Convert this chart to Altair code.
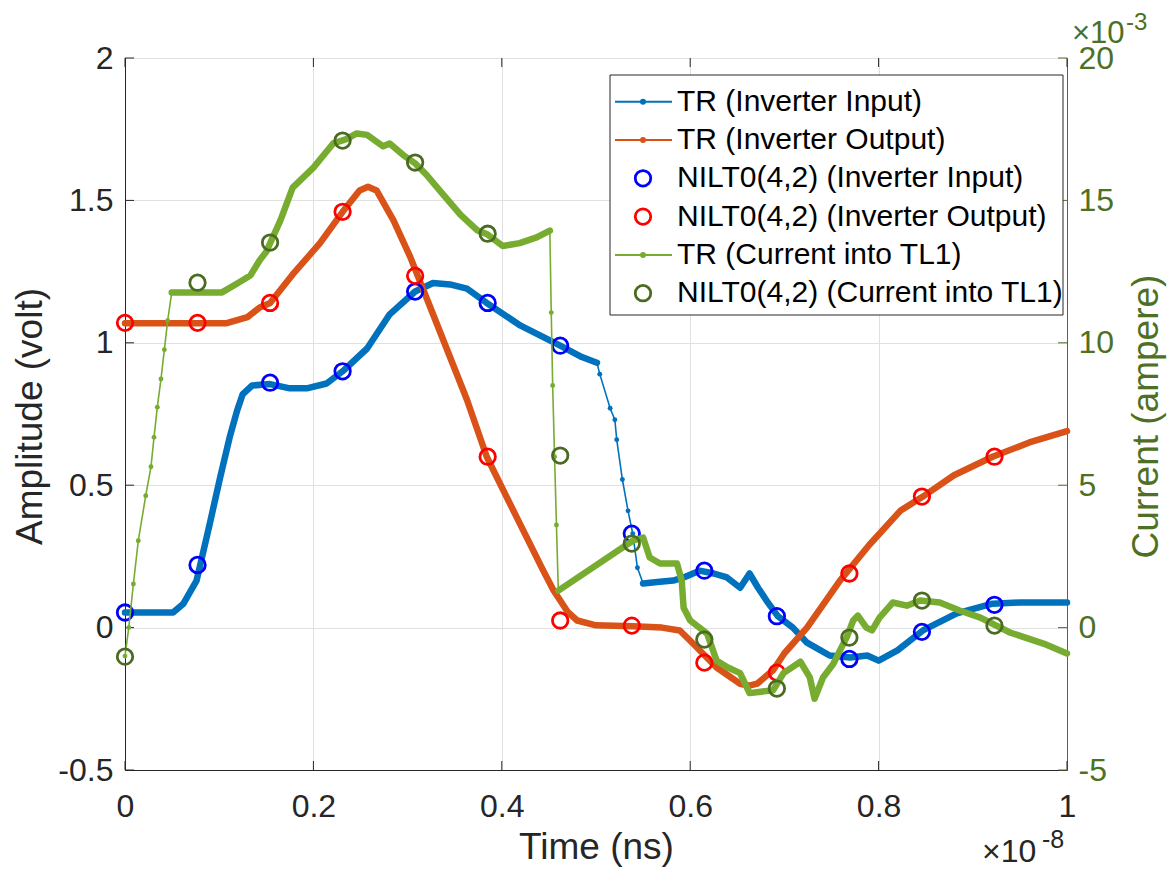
import altair as alt
import pandas as pd

# ---------------- data (time in units of 1e-8 s, current in 1e-3 A) ----------------
TR_IN_T = [0.0, 0.051, 0.062, 0.076, 0.090, 0.101, 0.111, 0.119, 0.125, 0.135, 0.154, 0.175, 0.193,
           0.214, 0.231, 0.257, 0.281, 0.308, 0.327, 0.345, 0.363, 0.384, 0.420, 0.462, 0.485, 0.501,
           0.504, 0.515, 0.520, 0.522, 0.528, 0.534, 0.539, 0.544, 0.550, 0.565, 0.582, 0.593, 0.610,
           0.625, 0.639, 0.653, 0.663, 0.672, 0.681, 0.693, 0.709, 0.724, 0.748, 0.770, 0.788, 0.800,
           0.820, 0.847, 0.883, 0.921, 0.950, 1.0]
TR_IN_V = [0.053, 0.053, 0.084, 0.165, 0.365, 0.527, 0.667, 0.762, 0.82, 0.85, 0.855, 0.84, 0.84,
           0.857, 0.90, 0.98, 1.10, 1.18, 1.21, 1.205, 1.19, 1.14, 1.06, 0.99, 0.95, 0.93,
           0.89, 0.77, 0.73, 0.66, 0.52, 0.41, 0.33, 0.21, 0.155, 0.16, 0.165, 0.176, 0.20,
           0.19, 0.176, 0.14, 0.19, 0.14, 0.095, 0.04, 0.0, -0.053, -0.098, -0.105, -0.098, -0.116,
           -0.08, -0.01, 0.05, 0.084, 0.088, 0.088]

TR_OUT_T = [0.0, 0.108, 0.130, 0.143, 0.154, 0.178, 0.207, 0.231, 0.249, 0.258, 0.267, 0.285, 0.303,
            0.327, 0.345, 0.363, 0.384, 0.416, 0.444, 0.455, 0.462, 0.470, 0.480, 0.500, 0.539, 0.570,
            0.589, 0.603, 0.628, 0.653, 0.663, 0.671, 0.688, 0.700, 0.724, 0.759, 0.790, 0.823, 0.847,
            0.880, 0.921, 0.960, 1.0]
TR_OUT_V = [1.069, 1.069, 1.09, 1.124, 1.14, 1.24, 1.35, 1.46, 1.535, 1.548, 1.535, 1.43, 1.30,
            1.10, 0.95, 0.80, 0.60, 0.386, 0.20, 0.13, 0.095, 0.055, 0.025, 0.008, 0.005, 0.0,
            -0.01, -0.056, -0.14, -0.197, -0.204, -0.197, -0.15, -0.09, 0.0, 0.165, 0.29, 0.41, 0.46,
            0.535, 0.60, 0.65, 0.69]

TR_CUR_T = [0.0, 0.004, 0.0089, 0.0141, 0.022, 0.0276, 0.0308, 0.0343, 0.0382, 0.0418, 0.0453, 0.0496,
            0.103, 0.120, 0.133, 0.143, 0.150, 0.165, 0.178, 0.200, 0.221, 0.235, 0.246, 0.257, 0.274,
            0.281, 0.295, 0.308, 0.320, 0.334, 0.356, 0.374, 0.385, 0.401, 0.419, 0.437, 0.451, 0.4525,
            0.454, 0.456, 0.458, 0.460, 0.539, 0.550, 0.557, 0.568, 0.586, 0.591, 0.593, 0.600, 0.618,
            0.628, 0.640, 0.653, 0.663, 0.688, 0.699, 0.717, 0.727, 0.732, 0.741, 0.752, 0.759, 0.766,
            0.773, 0.778, 0.787, 0.793, 0.801, 0.815, 0.830, 0.844, 0.865, 0.886, 0.908, 0.940, 0.975, 1.0]
TR_CUR_V = [-1.0, 0.0, 1.53, 3.05, 4.63, 5.65, 6.68, 7.74, 8.73, 9.76, 10.78, 11.77,
            11.77, 12.1, 12.36, 12.9, 13.2, 14.3, 15.45, 16.15, 17.0, 17.15, 17.35, 17.3, 16.9,
            17.0, 16.6, 16.3, 15.9, 15.35, 14.5, 13.95, 13.8, 13.4, 13.5, 13.7, 13.94, 11.06,
            8.5, 6.0, 3.6, 1.3, 3.05, 3.16, 2.46, 2.25, 2.25, 1.65, 0.7, 0.25, -0.21,
            -1.16, -1.4, -1.6, -2.3, -2.2, -1.6, -1.2, -1.75, -2.5, -1.75, -1.27, -0.8, -0.35,
            0.25, 0.42, 0.0, -0.1, 0.35, 0.88, 0.77, 0.95, 0.88, 0.6, 0.35, -0.18, -0.56, -0.91]

NILT_T = [0.0, 0.077, 0.154, 0.231, 0.308, 0.385, 0.462, 0.538, 0.615, 0.692, 0.769, 0.846, 0.923]
NILT_IN_V = [0.053, 0.22, 0.86, 0.90, 1.18, 1.14, 0.99, 0.33, 0.20, 0.04, -0.11, -0.015, 0.08]
NILT_OUT_V = [1.07, 1.07, 1.14, 1.46, 1.235, 0.60, 0.025, 0.007, -0.123, -0.158, 0.19, 0.46, 0.60]
NILT_CUR_V = [-1.02, 12.11, 13.52, 17.1, 16.33, 13.83, 6.04, 2.95, -0.42, -2.14, -0.35, 0.95, 0.07]

SERIES = ["TR (Inverter Input)", "TR (Inverter Output)",
          "NILT0(4,2) (Inverter Input)", "NILT0(4,2) (Inverter Output)",
          "TR (Current into TL1)", "NILT0(4,2) (Current into TL1)"]
COLORS = ["#0072BD", "#D95319", "#0000FF", "#FF0000", "#77AC30", "#4A6B21"]
LEGEND_KIND = ["line", "line", "circle", "circle", "line", "circle"]

X_TICKS = [0, 0.2, 0.4, 0.6, 0.8, 1]
LEFT_TICKS = [-0.5, 0, 0.5, 1, 1.5, 2]
RIGHT_TICKS = [-5, 0, 5, 10, 15, 20]

# dense (thick-looking) stretches of the sampled TR traces
THICK_IN = [(0.0, 0.501), (0.550, 1.0)]
THICK_OUT = [(0.0, 1.0)]
THICK_CUR = [(0.0496, 0.451), (0.460, 1.0)]

# ---------------- styling ----------------
FONT = "Liberation Sans"
AX = "#262626"
GRID = "#E0E0E0"
GREEN_AX = "#4E7024"
W, H = 942, 712


def frame(ts, vs, name):
    return pd.DataFrame({"t": ts, "v": vs, "series": name})


def thick(ts, vs, name, intervals):
    rows = []
    for k, (a, b) in enumerate(intervals):
        for t, v in zip(ts, vs):
            if a - 1e-9 <= t <= b + 1e-9:
                rows.append({"t": t, "v": v, "series": name, "seg": f"{name}#{k}"})
    return pd.DataFrame(rows)


tr_left = pd.concat([frame(TR_IN_T, TR_IN_V, SERIES[0]), frame(TR_OUT_T, TR_OUT_V, SERIES[1])])
thick_left = pd.concat([thick(TR_IN_T, TR_IN_V, SERIES[0], THICK_IN),
                        thick(TR_OUT_T, TR_OUT_V, SERIES[1], THICK_OUT)])
nilt_left = pd.concat([frame(NILT_T, NILT_IN_V, SERIES[2]), frame(NILT_T, NILT_OUT_V, SERIES[3])])
tr_right = frame(TR_CUR_T, TR_CUR_V, SERIES[4])
thick_right = thick(TR_CUR_T, TR_CUR_V, SERIES[4], THICK_CUR)
nilt_right = frame(NILT_T, NILT_CUR_V, SERIES[5])

LABEL_EXPR = "'' + datum.value"

X_ENC = alt.X("t:Q", scale=alt.Scale(domain=[0, 1], nice=False, zero=False),
              axis=alt.Axis(values=X_TICKS, labelExpr=LABEL_EXPR, title="Time (ns)",
                            grid=True, ticks=False, tickSize=0, labelPadding=21, labelFlush=False,
                            titleBaseline="top", titleY=59))
Y_LEFT = alt.Y("v:Q", scale=alt.Scale(domain=[-0.5, 2], nice=False, zero=False),
               axis=alt.Axis(orient="left", values=LEFT_TICKS, labelExpr=LABEL_EXPR,
                             title="Amplitude (volt)", grid=True, ticks=False, tickSize=0,
                             labelPadding=12, titleAngle=270, titleBaseline="bottom",
                             titleAlign="center", titleX=-76, titleY=358))
Y_RIGHT = alt.Y("v:Q", scale=alt.Scale(domain=[-5, 20], nice=False, zero=False),
                axis=alt.Axis(orient="right", values=RIGHT_TICKS, labelExpr=LABEL_EXPR,
                              title="Current (ampere)", grid=False, ticks=False, tickSize=0,
                              labelPadding=11, labelColor=GREEN_AX, titleColor=GREEN_AX,
                              domainColor=GREEN_AX, titleAngle=270, titleBaseline="bottom",
                              titleAlign="center", titleX=98, titleY=358))
COLOR_ENC = alt.Color("series:N", scale=alt.Scale(domain=SERIES, range=COLORS), legend=None)

one = pd.DataFrame({"a": [0]})

left = alt.layer(
    alt.Chart(pd.DataFrame({"t": X_TICKS})).mark_rule(color=AX, strokeWidth=1).encode(
        x=X_ENC, y=alt.value(H - 9), y2=alt.value(H)),
    alt.Chart(pd.DataFrame({"t": X_TICKS})).mark_rule(color=AX, strokeWidth=1).encode(
        x=X_ENC, y=alt.value(0), y2=alt.value(9)),
    alt.Chart(pd.DataFrame({"v": LEFT_TICKS})).mark_rule(color=AX, strokeWidth=1).encode(
        y=Y_LEFT, x=alt.value(0), x2=alt.value(9)),
    alt.Chart(tr_left).mark_line(strokeWidth=1.6).encode(
        x=X_ENC, y=Y_LEFT, color=COLOR_ENC, detail="series:N"),
    alt.Chart(thick_left).mark_line(strokeWidth=6.5, strokeCap="round", strokeJoin="round").encode(
        x=X_ENC, y=Y_LEFT, color=COLOR_ENC, detail="seg:N"),
    alt.Chart(tr_left).mark_circle(size=24, opacity=1).encode(x=X_ENC, y=Y_LEFT, color=COLOR_ENC),
    alt.Chart(nilt_left).mark_point(shape="circle", filled=False, size=240, strokeWidth=2.8,
                                    opacity=1).encode(x=X_ENC, y=Y_LEFT, color=COLOR_ENC),
)

right_layers = [
    alt.Chart(pd.DataFrame({"v": RIGHT_TICKS})).mark_rule(color=GREEN_AX, strokeWidth=1).encode(
        y=Y_RIGHT, x=alt.value(W - 9), x2=alt.value(W)),
    alt.Chart(tr_right).mark_line(strokeWidth=1.6).encode(
        x=X_ENC, y=Y_RIGHT, color=COLOR_ENC, detail="series:N"),
    alt.Chart(thick_right).mark_line(strokeWidth=6.5, strokeCap="round", strokeJoin="round").encode(
        x=X_ENC, y=Y_RIGHT, color=COLOR_ENC, detail="seg:N"),
    alt.Chart(tr_right).mark_circle(size=24, opacity=1).encode(x=X_ENC, y=Y_RIGHT, color=COLOR_ENC),
    alt.Chart(nilt_right).mark_point(shape="circle", filled=False, size=240, strokeWidth=2.8,
                                     opacity=1).encode(x=X_ENC, y=Y_RIGHT, color=COLOR_ENC),
    # exponent annotations
    alt.Chart(one).mark_text(text="×10", font=FONT, fontSize=32, color=AX, align="left",
                             baseline="alphabetic").encode(x=alt.value(857), y=alt.value(804)),
    alt.Chart(one).mark_text(text="-8", font=FONT, fontSize=25, color=AX, align="left",
                             baseline="alphabetic").encode(x=alt.value(917), y=alt.value(790)),
    alt.Chart(one).mark_text(text="×10", font=FONT, fontSize=31, color=GREEN_AX, align="left",
                             baseline="alphabetic").encode(x=alt.value(947), y=alt.value(-15)),
    alt.Chart(one).mark_text(text="-3", font=FONT, fontSize=24, color=GREEN_AX, align="left",
                             baseline="alphabetic").encode(x=alt.value(1001), y=alt.value(-28)),
    # legend box
    alt.Chart(one).mark_rect(fill="white", stroke=AX, strokeWidth=1).encode(
        x=alt.value(485), x2=alt.value(938), y=alt.value(17), y2=alt.value(257)),
]

ROW0, ROWSTEP = 43.7, 38.3
for i, (name, col, kind) in enumerate(zip(SERIES, COLORS, LEGEND_KIND)):
    yy = ROW0 + ROWSTEP * i
    if kind == "line":
        right_layers.append(alt.Chart(one).mark_rule(color=col, strokeWidth=2).encode(
            x=alt.value(490), x2=alt.value(547), y=alt.value(yy)))
        right_layers.append(alt.Chart(one).mark_circle(color=col, size=36, opacity=1).encode(
            x=alt.value(518), y=alt.value(yy)))
    else:
        right_layers.append(alt.Chart(one).mark_point(shape="circle", filled=False, color=col,
                                                      size=240, strokeWidth=2.8, opacity=1).encode(
            x=alt.value(518), y=alt.value(yy)))
    right_layers.append(alt.Chart(one).mark_text(text=name, font=FONT, fontSize=30, color="#000000",
                                                 align="left", baseline="middle").encode(
        x=alt.value(552), y=alt.value(yy)))

right = alt.layer(*right_layers)

chart = (
    alt.layer(left, right)
    .resolve_scale(y="independent")
    .properties(width=W, height=H,
                padding={"left": 117, "top": 50, "right": 101, "bottom": 98},
                autosize=alt.AutoSizeParams(type="none"))
    .configure_view(stroke=AX, strokeWidth=1)
    .configure_axis(labelFont=FONT, titleFont=FONT, labelFontSize=32, titleFontSize=37,
                    titleFontWeight="normal", labelColor=AX, titleColor=AX, domainColor=AX,
                    domainWidth=1, gridColor=GRID, gridWidth=1)
)

chart.save("out.html", embed_options={"renderer": "svg", "actions": False})
